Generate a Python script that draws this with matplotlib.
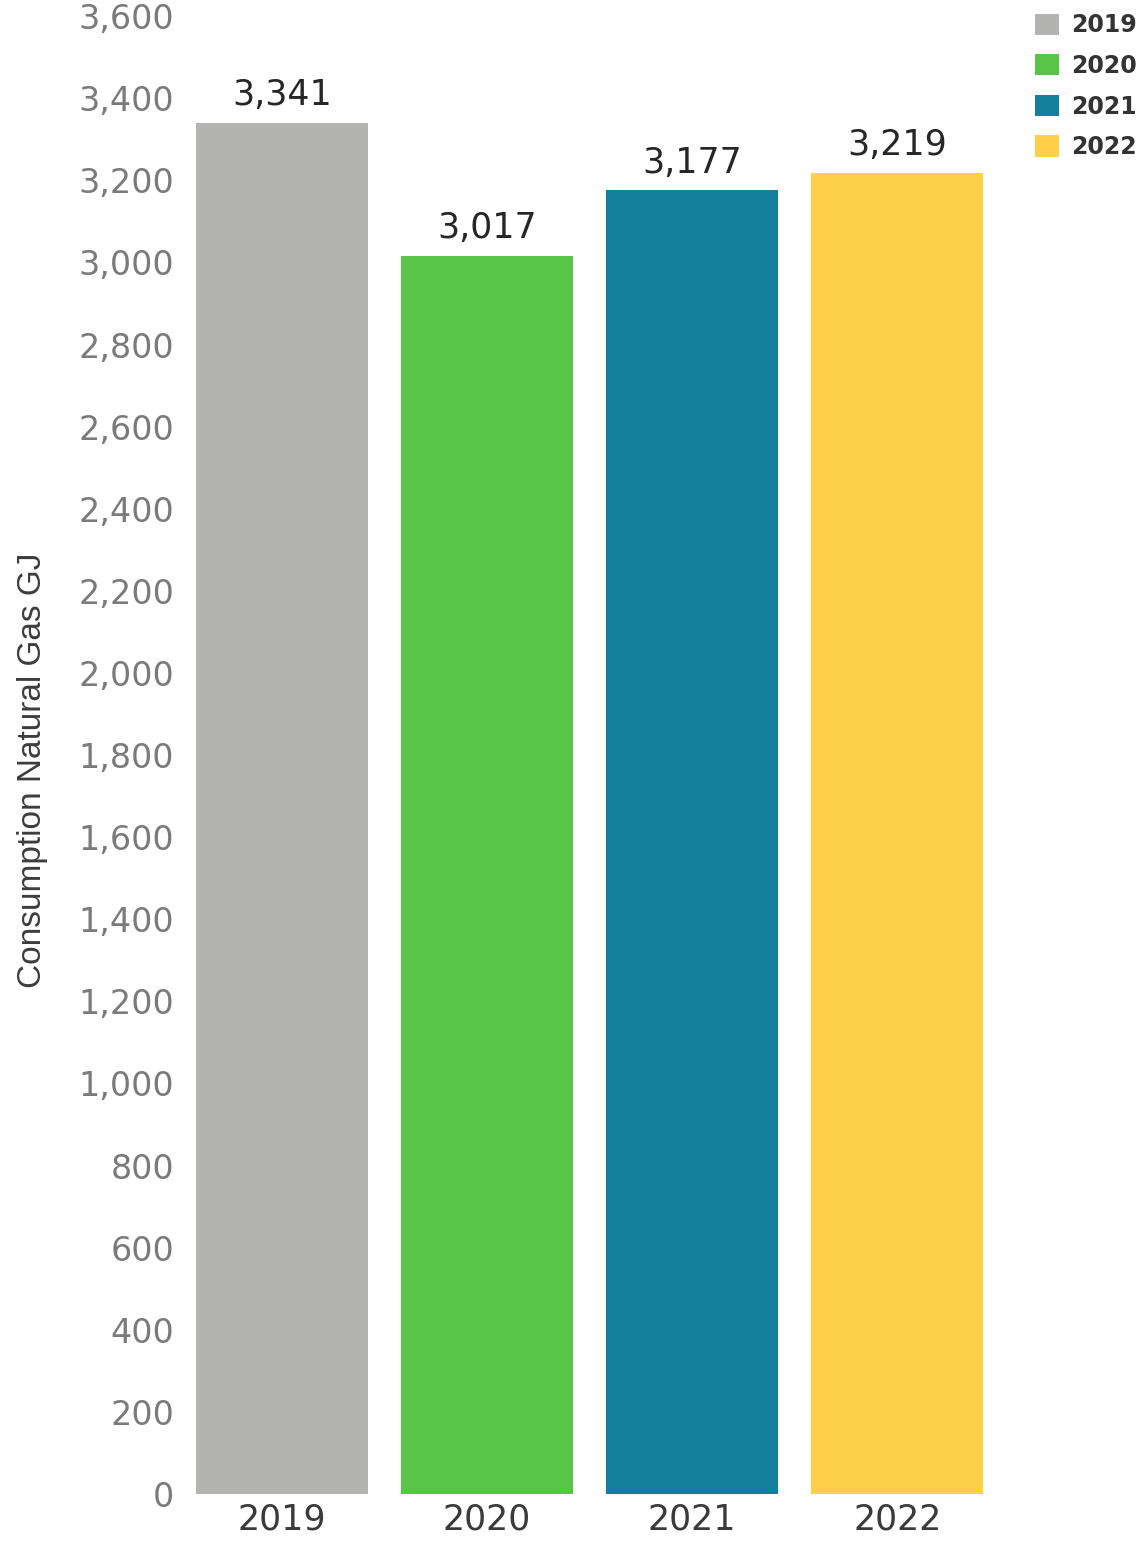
import numpy as np
import matplotlib
matplotlib.use('Agg')
import matplotlib.pyplot as plt
from matplotlib.patches import Patch

# ------------------------
# data
# ------------------------

years = ['2019', '2020', '2021', '2022']
consumption = [3341, 3017, 3177, 3219]  # GJ
bar_colors = ['#b3b4b2', '#58c548', '#147f9b', '#fecf48']
yticks = np.arange(0, 3601, 200)

# ------------------------

fig = plt.figure(figsize=(11.44, 15.41), dpi=100)
ax = fig.add_axes([0.162, 0.0305, 0.712, 0.959])

x = np.arange(len(years))
ax.bar(x, consumption, width=0.84, color=bar_colors)

# value labels above each bar
for xi, val in zip(x, consumption):
    ax.text(xi, val + 25, f'{val:,}', ha='center', va='bottom',
            fontsize=25, color='#262626', fontweight='medium')

ax.set_xlim(-0.47, 3.5)
ax.set_ylim(0, 3600)
ax.set_yticks(yticks)
ax.set_yticklabels([f'{v:,}' for v in yticks])
ax.set_xticks(x)
ax.set_xticklabels(years)

ax.tick_params(axis='y', length=0, pad=8, labelsize=24, labelcolor='#7a7a7a')
ax.tick_params(axis='x', length=0, pad=6, labelsize=25, labelcolor='#3a3a3a')
for s in ax.spines.values():
    s.set_visible(False)

ax.set_ylabel('Consumption Natural Gas GJ', fontsize=24, color='#3c3c3c',
              family=['Liberation Sans Narrow', 'Liberation Sans', 'DejaVu Sans'])
ax.yaxis.set_label_coords(-0.168, 0.49)

# legend in the top right corner
handles = [Patch(facecolor=c, label=y) for c, y in zip(bar_colors, years)]
fig.legend(handles=handles, loc='upper right', bbox_to_anchor=(1.008, 1.002),
           frameon=False, handlelength=1.0, handleheight=1.0,
           handletextpad=0.5, labelspacing=0.7, borderaxespad=0.3,
           prop={'size': 17, 'weight': 'bold'}, labelcolor='#333333')

fig.savefig('out.png', dpi=100)
